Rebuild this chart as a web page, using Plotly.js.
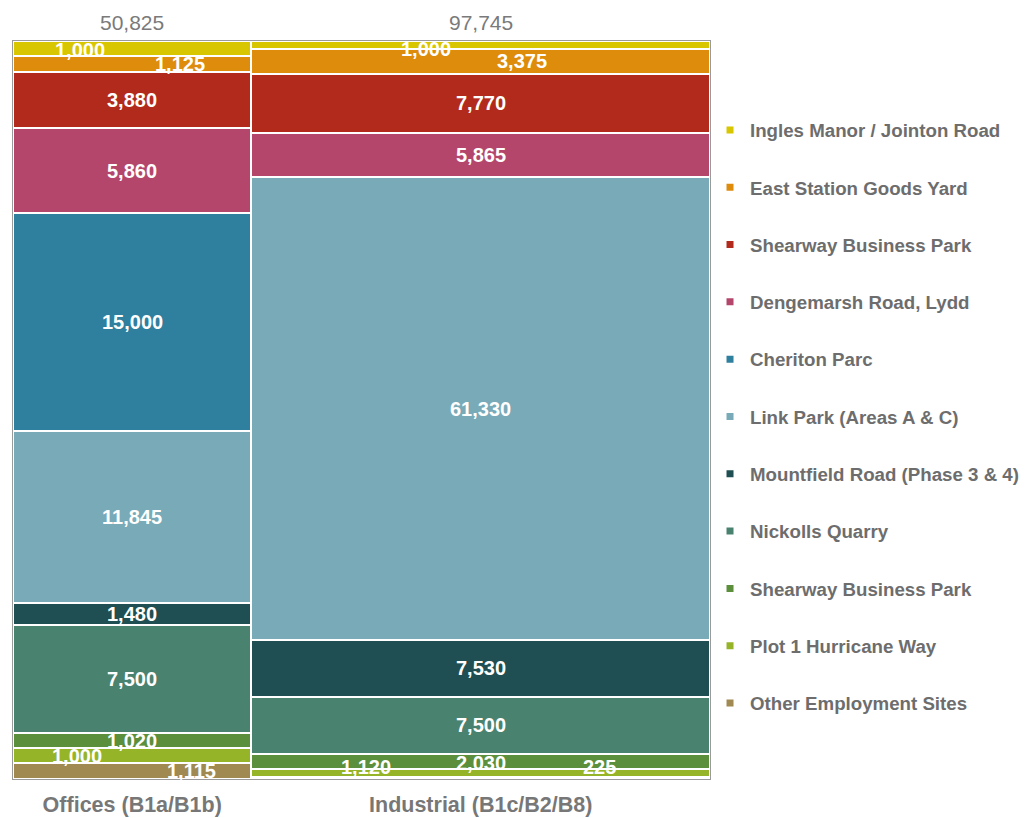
<!DOCTYPE html>
<html>
<head>
<meta charset="utf-8">
<script src="https://cdn.plot.ly/plotly-3.0.1.min.js"></script>
<style>html,body{margin:0;padding:0;background:#fff;}#chart{width:1025px;height:818px;}</style>
</head>
<body>
<div id="chart"></div>
<script>
// ---- Data ----
const categories = ['Offices (B1a/B1b)', 'Industrial (B1c/B2/B8)'];
const seriesNames = ['Other Employment Sites', 'Plot 1 Hurricane Way', 'Shearway Business Park', 'Nickolls Quarry',
  'Mountfield Road (Phase 3 & 4)', 'Link Park (Areas A & C)', 'Cheriton Parc', 'Dengemarsh Road, Lydd',
  'Shearway Business Park', 'East Station Goods Yard', 'Ingles Manor / Jointon Road'];
const otherEmployment = [1115, 225];
const plot1Hurricane  = [1000, 1120];
const shearwayGreen   = [1020, 2030];
const nickollsQuarry  = [7500, 7500];
const mountfieldRoad  = [1480, 7530];
const linkPark        = [11845, 61330];
const cheritonParc    = [15000, 0];
const dengemarsh      = [5860, 5865];
const shearwayRed     = [3880, 7770];
const eastStation     = [1125, 3375];
const inglesManor     = [1000, 1000];

const seriesValues = [otherEmployment, plot1Hurricane, shearwayGreen, nickollsQuarry, mountfieldRoad,
  linkPark, cheritonParc, dengemarsh, shearwayRed, eastStation, inglesManor];
const colors = ['#a08a52', '#96b428', '#5b8f3c', '#4a8270', '#1f4f52', '#78aab8', '#2f7f9e', '#b4466c',
  '#b22a1c', '#dd8c0c', '#d8c600'];

// label placement tweaks (style only): [fraction across bar, yshift px]
const labelTweak = {
  '0|0': [0.75, 0], '1|0': [0.27, 0], '9|0': [0.70, 0], '10|0': [0.28, -2],
  '0|1': [0.76, 11], '1|1': [0.25, 6], '2|1': [0.5, -2], '9|1': [0.59, 0], '10|1': [0.38, -4]
};

const FONT = 'Liberation Sans, Arial, sans-serif';
const fmt = v => v.toLocaleString('en-US');

// Marimekko geometry from data
const totals = categories.map((c, j) => seriesValues.reduce((s, arr) => s + arr[j], 0));
const lefts = [];
let acc = 0;
totals.forEach(t => { lefts.push(acc); acc += t; });
const grand = acc;
const centers = totals.map((t, j) => lefts[j] + t / 2);

const traces = [];
const annotations = [];
const cum = totals.map(() => 0);
seriesValues.forEach((vals, i) => {
  const pct = vals.map((v, j) => v / totals[j] * 100);
  traces.push({
    type: 'bar', x: centers, y: pct, width: totals, name: seriesNames[i],
    marker: {color: colors[i], line: {color: '#ffffff', width: 2}},
    showlegend: false, hoverinfo: 'skip'
  });
  vals.forEach((v, j) => {
    const mid = cum[j] + pct[j] / 2;
    cum[j] += pct[j];
    if (v <= 0) return;
    const tw = labelTweak[i + '|' + j] || [0.5, 0];
    annotations.push({
      x: lefts[j] + totals[j] * tw[0], y: mid, xref: 'x', yref: 'y',
      text: fmt(v), showarrow: false, yshift: tw[1],
      font: {family: FONT, size: 20, color: '#ffffff', weight: 'bold'}
    });
  });
});
// legend proxies (small square markers), top of stack first
for (let i = seriesValues.length - 1; i >= 0; i--) {
  traces.push({
    type: 'scatter', mode: 'markers', x: [null], y: [null], name: seriesNames[i],
    marker: {symbol: 'square', size: 7, color: colors[i]},
    legendgroup: 'g' + i, showlegend: true, hoverinfo: 'skip'
  });
}
totals.forEach((t, j) => {
  annotations.push({
    x: centers[j], y: 100, xref: 'x', yref: 'y', yanchor: 'middle', yshift: 19,
    text: fmt(t), showarrow: false,
    font: {family: FONT, size: 21, color: '#7a7a7a'}
  });
});

const layout = {
  width: 1025, height: 818,
  margin: {l: 13, r: 312, t: 41, b: 39},
  paper_bgcolor: '#ffffff', plot_bgcolor: '#ffffff',
  barmode: 'stack', bargap: 0,
  showlegend: true,
  legend: {
    xref: 'container', yref: 'container',
    x: 0.6927, xanchor: 'left', y: 0.864, yanchor: 'top',
    maxheight: 2000,
    traceorder: 'grouped', tracegroupgap: 30,
    font: {family: FONT, size: 18.7, color: '#6d6d6d', weight: 'bold'},
    bgcolor: 'rgba(0,0,0,0)'
  },
  xaxis: {
    range: [0, grand], tickmode: 'array', tickvals: centers, ticktext: categories,
    showgrid: false, zeroline: false, ticks: '', showline: true, mirror: true,
    linecolor: '#9a9a9a', linewidth: 1, ticklabelstandoff: 6,
    tickfont: {family: FONT, size: 21.5, color: '#777777', weight: 'bold'}
  },
  yaxis: {
    range: [0, 100], showticklabels: false, showgrid: false, zeroline: false,
    ticks: '', showline: true, mirror: true, linecolor: '#9a9a9a', linewidth: 1
  },
  annotations: annotations
};

Plotly.newPlot('chart', traces, layout, {displayModeBar: false, staticPlot: true});
</script>
</body>
</html>
